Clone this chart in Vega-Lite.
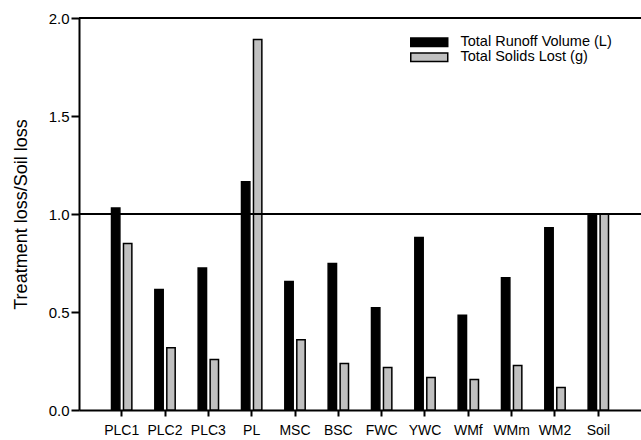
{
  "$schema": "https://vega.github.io/schema/vega-lite/v6.json",
  "width": 562,
  "height": 392,
  "autosize": "none",
  "padding": {"left": 79, "top": 18, "right": 0, "bottom": 30},
  "background": "white",
  "config": {"view": {"stroke": null}, "font": "Liberation Sans"},
  "datasets": {
    "bars": [
      {"treatment": "PLC1", "series": "Total Runoff Volume (L)", "value": 1.03},
      {"treatment": "PLC1", "series": "Total Solids Lost (g)", "value": 0.85},
      {"treatment": "PLC2", "series": "Total Runoff Volume (L)", "value": 0.615},
      {"treatment": "PLC2", "series": "Total Solids Lost (g)", "value": 0.317},
      {"treatment": "PLC3", "series": "Total Runoff Volume (L)", "value": 0.725},
      {"treatment": "PLC3", "series": "Total Solids Lost (g)", "value": 0.258},
      {"treatment": "PL", "series": "Total Runoff Volume (L)", "value": 1.165},
      {"treatment": "PL", "series": "Total Solids Lost (g)", "value": 1.89},
      {"treatment": "MSC", "series": "Total Runoff Volume (L)", "value": 0.656},
      {"treatment": "MSC", "series": "Total Solids Lost (g)", "value": 0.359},
      {"treatment": "BSC", "series": "Total Runoff Volume (L)", "value": 0.748},
      {"treatment": "BSC", "series": "Total Solids Lost (g)", "value": 0.237},
      {"treatment": "FWC", "series": "Total Runoff Volume (L)", "value": 0.522},
      {"treatment": "FWC", "series": "Total Solids Lost (g)", "value": 0.217},
      {"treatment": "YWC", "series": "Total Runoff Volume (L)", "value": 0.88},
      {"treatment": "YWC", "series": "Total Solids Lost (g)", "value": 0.166},
      {"treatment": "WMf", "series": "Total Runoff Volume (L)", "value": 0.483},
      {"treatment": "WMf", "series": "Total Solids Lost (g)", "value": 0.156},
      {"treatment": "WMm", "series": "Total Runoff Volume (L)", "value": 0.675},
      {"treatment": "WMm", "series": "Total Solids Lost (g)", "value": 0.227},
      {"treatment": "WM2", "series": "Total Runoff Volume (L)", "value": 0.93},
      {"treatment": "WM2", "series": "Total Solids Lost (g)", "value": 0.115},
      {"treatment": "Soil", "series": "Total Runoff Volume (L)", "value": 1.0},
      {"treatment": "Soil", "series": "Total Solids Lost (g)", "value": 1.0}
    ],
    "refs": [{"ref": 1.0}, {"ref": 2.0}]
  },
  "layer": [
    {
      "data": {"name": "bars"},
      "mark": {"type": "bar", "stroke": "black", "strokeWidth": 1.5},
      "encoding": {
        "x": {
          "field": "treatment",
          "type": "nominal",
          "sort": ["PLC1", "PLC2", "PLC3", "PL", "MSC", "BSC", "FWC", "YWC", "WMf", "WMm", "WM2", "Soil"],
          "scale": {"paddingInner": 0.53, "paddingOuter": 0.75},
          "axis": {
            "title": null,
            "labelAngle": 0,
            "labelFontSize": 14,
            "labelColor": "black",
            "labelPadding": 7,
            "domainColor": "black",
            "domainWidth": 2,
            "tickColor": "black",
            "tickWidth": 2,
            "tickSize": 6,
            "grid": false
          }
        },
        "xOffset": {
          "field": "series",
          "sort": ["Total Runoff Volume (L)", "Total Solids Lost (g)"],
          "scale": {"paddingInner": 0.3}
        },
        "y": {
          "field": "value",
          "type": "quantitative",
          "scale": {"domain": [0, 2], "nice": false},
          "axis": {
            "title": "Treatment loss/Soil loss",
            "titleFontSize": 18,
            "titleFontWeight": "normal",
            "titleColor": "black",
            "titlePadding": 18,
            "values": [0, 0.5, 1, 1.5, 2],
            "format": ".1f",
            "labelFontSize": 15,
            "labelColor": "black",
            "labelPadding": 2,
            "domainColor": "black",
            "domainWidth": 2,
            "tickColor": "black",
            "tickWidth": 2,
            "tickSize": 8,
            "grid": false
          }
        },
        "fill": {
          "field": "series",
          "type": "nominal",
          "scale": {
            "domain": ["Total Runoff Volume (L)", "Total Solids Lost (g)"],
            "range": ["black", "#c0c0c0"]
          },
          "legend": {
            "title": null,
            "orient": "none",
            "legendX": 343,
            "legendY": 17,
            "symbolType": "M-4,-0.9H4V0.9H-4Z",
            "symbolSize": 85.5,
            "symbolStrokeColor": "black",
            "symbolStrokeWidth": 1.5,
            "labelFontSize": 14.5,
            "labelColor": "black",
            "labelOffset": 24,
            "rowPadding": -3.5
          }
        }
      }
    },
    {
      "data": {"name": "refs"},
      "mark": {"type": "rule", "color": "black", "strokeWidth": 2},
      "encoding": {"y": {"field": "ref", "type": "quantitative"}}
    }
  ]
}
